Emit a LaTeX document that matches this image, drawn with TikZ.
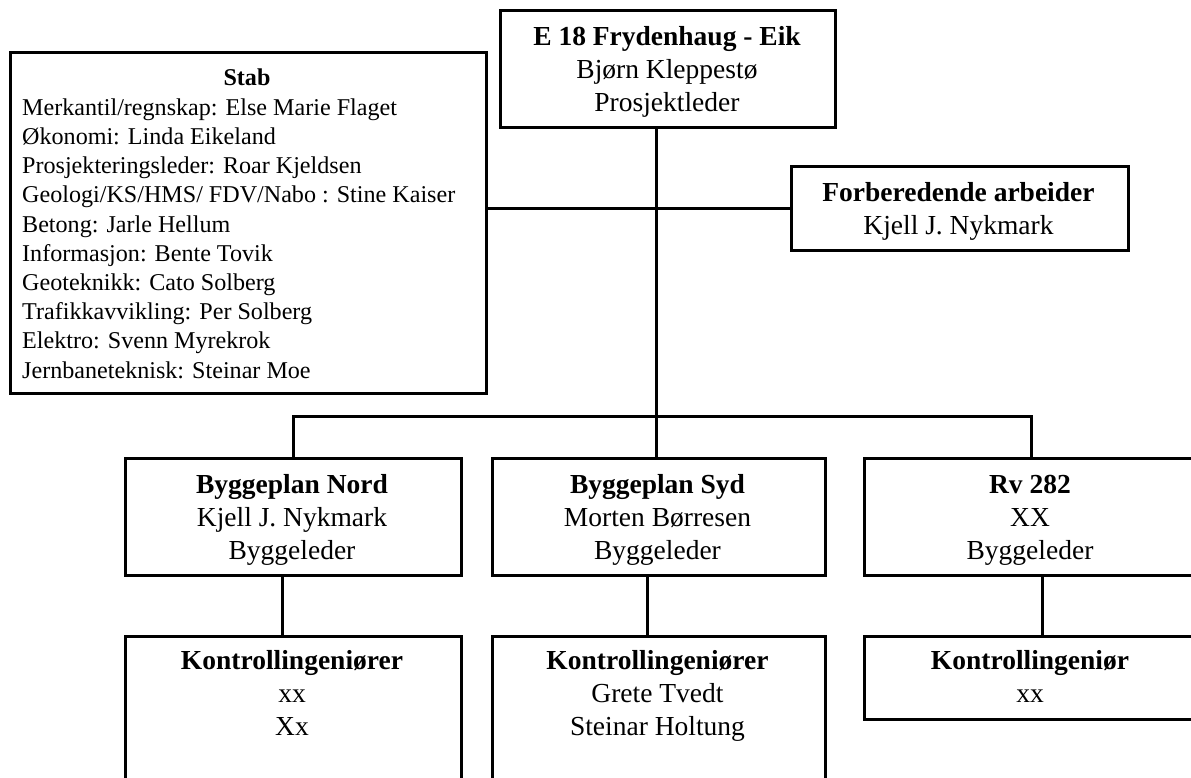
\documentclass[tikz,border=0pt]{standalone}
\usepackage{fontspec}
\setmainfont{Liberation Serif}
% first-line struts fix the baseline of each label's top line
\newcommand{\hd}[1]{\vrule height 23.1pt width 0pt\textbf{#1}}
\newcommand{\shd}{\vrule height 20.4pt width 0pt}
\begin{document}
\begin{tikzpicture}[x=1pt,y=-1pt,
  box/.style={draw=black, line width=3pt, fill=white, inner sep=0pt, anchor=north west},
  conn/.style={draw=black, line width=3pt},
  lbl/.style={align=center, inner sep=0pt, anchor=north,
    font=\fontsize{27.5}{33}\selectfont},
  stabfont/.style={inner sep=0pt, font=\fontsize{24.1}{29.2}\selectfont}]
  \useasboundingbox (0,0) rectangle (1191,778);
  \fill[white] (0,0) rectangle (1191,778);
  \clip (0,0) rectangle (1191,778);

  % boxes
  \node[box, minimum width=335pt, minimum height=117pt] (top)   at (499,9)   {};
  \node[box, minimum width=476pt, minimum height=341pt] (stab)  at (9,51)    {};
  \node[box, minimum width=337pt, minimum height=84pt]  (forb)  at (790,165) {};
  \node[box, minimum width=336pt, minimum height=117pt] (nord)  at (124,457) {};
  \node[box, minimum width=333pt, minimum height=117pt] (syd)   at (491,457) {};
  \node[box, minimum width=334pt, minimum height=117pt] (rv)    at (863,457) {};
  \node[box, minimum width=336pt, minimum height=200pt] (nordk) at (124,635) {};
  \node[box, minimum width=333pt, minimum height=200pt] (sydk)  at (491,635) {};
  \node[box, minimum width=334pt, minimum height=83pt]  (rvk)   at (863,635) {};

  % box texts
  \node[lbl] (ttop) at (667,21.9) {\hd{E 18 Frydenhaug - Eik}\\Bjørn Kleppestø\\Prosjektleder};
  \node[lbl] (tforb) at (958.5,177.9) {\hd{Forberedende arbeider}\\Kjell J. Nykmark};
  \node[lbl] (tnord) at (292,469.9) {\hd{Byggeplan Nord}\\Kjell J. Nykmark\\Byggeleder};
  \node[lbl] (tsyd) at (657.5,469.9) {\hd{Byggeplan Syd}\\Morten Børresen\\Byggeleder};
  \node[lbl] (trv) at (1030,469.9) {\hd{Rv 282}\\XX\\Byggeleder};
  \node[lbl] (tnordk) at (292,645.9) {\hd{Kontrollingeniører}\\xx\\Xx};
  \node[lbl] (tsydk) at (657.5,645.9) {\hd{Kontrollingeniører}\\Grete Tvedt\\Steinar Holtung};
  \node[lbl] (trvk) at (1030,645.9) {\hd{Kontrollingeniør}\\xx};

  \node[stabfont, anchor=north] (tstab) at (247,64.6) {\shd\textbf{Stab}};
  \node[stabfont, anchor=north west, align=left] (tstabl) at (22,94.6) {%
    \shd Merkantil/regnskap: Else Marie Flaget\\
    Økonomi: Linda Eikeland\\
    Prosjekteringsleder: Roar Kjeldsen\\
    Geologi/KS/HMS/ FDV/Nabo : Stine Kaiser\\
    Betong: Jarle Hellum\\
    Informasjon: Bente Tovik\\
    Geoteknikk: Cato Solberg\\
    Trafikkavvikling: Per Solberg\\
    Elektro: Svenn Myrekrok\\
    Jernbaneteknisk: Steinar Moe};

  % connectors
  \coordinate (hub) at (656,416);
  \draw[conn] (top.south -| hub) -- (hub);
  \draw[conn] (stab.east |- forb.west) -- (forb.west);
  \draw[conn] (nord.north) |- (hub);
  \draw[conn] (rv.north) |- (hub);
  \draw[conn] (hub) -- (hub |- syd.north);
  \draw[conn] ([xshift=-11pt]nord.south) -- ([xshift=-11pt]nordk.north);
  \draw[conn] ([xshift=-11.5pt]syd.south) -- ([xshift=-11.5pt]sydk.north);
  \draw[conn] ([xshift=11pt]rv.south) -- ([xshift=11pt]rvk.north);
\end{tikzpicture}
\end{document}
